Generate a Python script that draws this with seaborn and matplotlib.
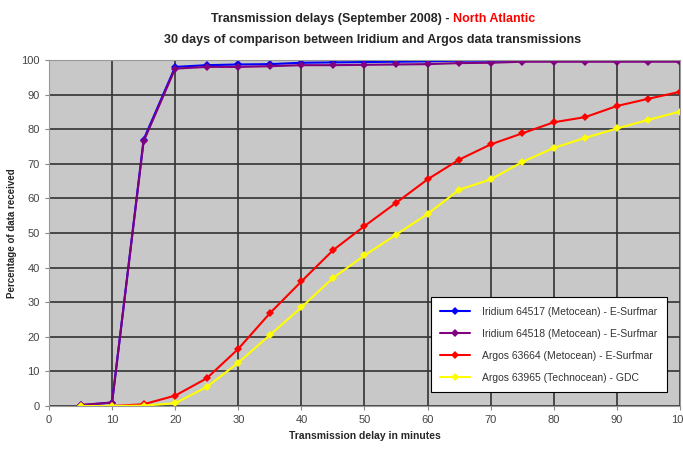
import pandas as pd
import seaborn as sns
import matplotlib.pyplot as plt

minutes = [5, 10, 15, 20, 25, 30, 35, 40, 45, 50, 55, 60, 65, 70, 75, 80, 85, 90, 95, 100]

iridium_64517 = [0.2, 1.0, 77.0, 98.0, 98.5, 98.7, 98.8, 99.2, 99.3, 99.4, 99.5, 99.6, 99.8,
                 99.8, 99.8, 99.8, 99.8, 99.8, 99.8, 99.8]
iridium_64518 = [0.3, 1.0, 76.5, 97.5, 98.0, 98.0, 98.2, 98.5, 98.5, 98.6, 98.7, 98.8, 99.1,
                 99.2, 99.5, 99.5, 99.5, 99.5, 99.5, 99.5]
argos_63664 = [0.0, 0.0, 0.5, 3.0, 8.0, 16.5, 26.8, 36.0, 45.0, 52.0, 58.7, 65.5, 71.2,
               75.6, 78.8, 82.0, 83.5, 86.7, 88.8, 90.8]
argos_63965 = [0.0, 0.0, 0.1, 0.8, 5.5, 12.5, 20.5, 28.5, 37.0, 43.5, 49.5, 55.5, 62.5,
               65.5, 70.5, 74.6, 77.5, 80.2, 82.7, 85.1]

labels = ["Iridium 64517 (Metocean) - E-Surfmar",
          "Iridium 64518 (Metocean) - E-Surfmar",
          "Argos 63664 (Metocean) - E-Surfmar",
          "Argos 63965 (Technocean) - GDC"]
colors = ["#0000FF", "#800080", "#FF0000", "#FFFF00"]

rows = []
for lab, vals in zip(labels, [iridium_64517, iridium_64518, argos_63664, argos_63965]):
    for m, v in zip(minutes, vals):
        rows.append({"minutes": m, "pct": v, "serie": lab})
df = pd.DataFrame(rows)

sns.set_style("white")
plt.rcParams['font.family'] = ['Liberation Sans', 'DejaVu Sans']

fig = plt.figure(figsize=(6.83, 4.5), dpi=100)
ax = fig.add_axes([0.0717, 0.0978, 0.9239, 0.7689])
ax.set_facecolor("#C8C8C8")

sns.lineplot(data=df, x="minutes", y="pct", hue="serie", palette=colors,
             marker="D", markersize=4.5, markeredgewidth=0, linewidth=1.5, ax=ax)

ax.set_xlim(0, 100)
ax.set_ylim(0, 100)
ax.set_xticks(range(0, 101, 10))
ax.set_yticks(range(0, 101, 10))
ax.grid(True, color="#333333", linewidth=1.2)
ax.set_axisbelow(True)
ax.tick_params(axis="both", labelsize=8, labelcolor="#444444", length=3, color="#888888",
               left=True, bottom=True)
for s in ax.spines.values():
    s.set_color("#999999")

ax.set_xlabel("Transmission delay in minutes", fontsize=7.5, fontweight="bold", labelpad=4)
ax.set_ylabel("Percentage of data received", fontsize=7, fontweight="bold", labelpad=3)

leg = ax.legend(loc="lower right", bbox_to_anchor=(0.979, 0.04), fontsize=7.5, frameon=True,
                fancybox=False, edgecolor="black", framealpha=1, borderpad=0.9,
                labelspacing=1.15, handlelength=2.8, handletextpad=1.2, borderaxespad=0)
leg.get_frame().set_linewidth(0.8)
for t in leg.get_texts():
    t.set_color("#333333")

# title line 1: black part + red part, centred together
t1 = fig.text(0, 0.958, "Transmission delays (September 2008) - ", fontsize=9,
              fontweight="bold", ha="left", va="center")
t2 = fig.text(0, 0.958, "North Atlantic", fontsize=9, fontweight="bold", color="red",
              ha="left", va="center")
fig.canvas.draw()
r = fig.canvas.get_renderer()
w1 = t1.get_window_extent(r).width / fig.bbox.width
w2 = t2.get_window_extent(r).width / fig.bbox.width
x0 = 0.546 - (w1 + w2) / 2
t1.set_x(x0)
t2.set_x(x0 + w1)
fig.text(0.546, 0.911, "30 days of comparison between Iridium and Argos data transmissions",
         fontsize=9, fontweight="bold", ha="center", va="center")

fig.savefig("out.png", dpi=100)
